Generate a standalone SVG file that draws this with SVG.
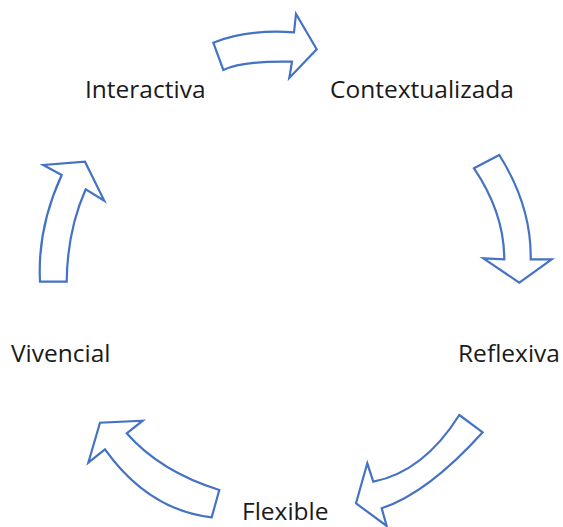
<svg xmlns="http://www.w3.org/2000/svg" width="563" height="527" viewBox="0 0 563 527">
<style>
.arr{fill:#ffffff;stroke:#4472C4;stroke-width:2.2;stroke-linejoin:miter}
.lbl{font-family:"Open Sans","Liberation Sans",sans-serif;font-size:24.5px;fill:#1a1a1a}
</style>
<rect width="563" height="527" fill="#ffffff"/>
<g id="connectors">
<path class="arr" d="M213.3,42.7 Q246.4,29.1 294,32.3 L296,14 L316.7,49.3 L289.3,78 L292,61.7 Q242.3,60.7 223.3,70 Z"/>
<path class="arr" d="M474,168.3 L499.3,155 Q531.6,206.2 530.7,259.3 L551.7,259.3 L519.3,282.7 L483.3,258.3 L504.3,259.3 Q504.2,212.8 474,168.3 Z"/>
<path class="arr" d="M459.3,415 L482.7,432.3 Q427.8,493.1 381.7,508.3 L386.7,526 L356,503.3 L367.3,463.3 L373.3,481.7 Q423.7,471.7 459.3,415 Z"/>
<path class="arr" d="M211.7,517.3 L219.3,490 Q160.4,471.7 126.7,433.3 L142.7,420.7 L100,422.7 L88.3,462.7 L105,449.3 Q148.3,510 211.7,517.3 Z"/>
<path class="arr" d="M40,281.7 L66.7,281.7 Q67.2,231.1 85.7,189.3 L104.3,200.7 L85,161.7 L43.3,165 L61.7,175 Q37.2,228.3 40,281.7 Z"/>
</g>
<g id="n-interactiva"><text class="lbl" x="85" y="98">Interactiva</text></g>
<g id="n-contextualizada"><text class="lbl" x="330" y="98">Contextualizada</text></g>
<g id="n-reflexiva"><text class="lbl" x="458" y="362">Reflexiva</text></g>
<g id="n-flexible"><text class="lbl" x="242" y="520">Flexible</text></g>
<g id="n-vivencial"><text class="lbl" x="11" y="362">Vivencial</text></g>
</svg>
